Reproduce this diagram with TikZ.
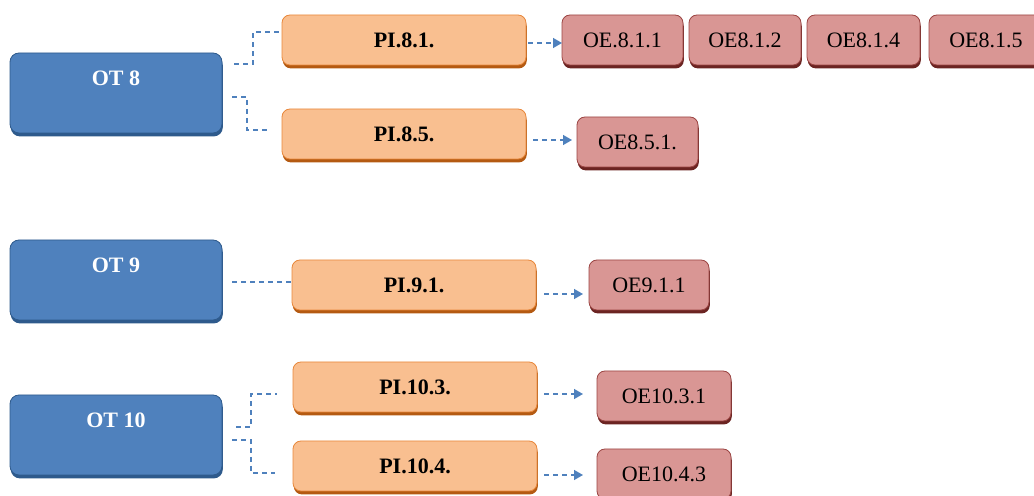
\documentclass[tikz,border=0pt]{standalone}
\usepackage{fontspec}
\setmainfont{Liberation Serif}
\usetikzlibrary{shadows, positioning, arrows.meta, calc}

\definecolor{otFill}{HTML}{4F81BD}
\definecolor{otDark}{HTML}{2E5A8C}
\definecolor{piFill}{HTML}{F9BF90}
\definecolor{piLine}{HTML}{E8883C}
\definecolor{piDark}{HTML}{B45A12}
\definecolor{oeFill}{HTML}{D99694}
\definecolor{oeLine}{HTML}{9B4543}
\definecolor{oeDark}{HTML}{6B2422}
\definecolor{linkBlue}{HTML}{4F81BD}

\begin{document}
\begin{tikzpicture}[
    x=0.5pt, y=-0.5pt,
    % --- stiluri ---
    ot/.style={
            draw=otDark,
            fill=otFill,
            rounded corners=4.5pt,
            inner sep=0pt, outer sep=0pt,
            minimum width=106pt,
            minimum height=40pt,
            text height=8pt, text depth=15pt,
            drop shadow={shadow xshift=0.4pt, shadow yshift=-1.7pt, fill=otDark, opacity=1},
            font=\fontsize{11}{13}\selectfont\bfseries,
            text=white
        },
    pi/.style={
            draw=piLine,
            fill=piFill,
            rounded corners=4pt,
            inner sep=0pt, outer sep=0pt,
            minimum width=122pt,
            minimum height=25pt,
            drop shadow={shadow xshift=0.4pt, shadow yshift=-1.7pt, fill=piDark, opacity=1},
            font=\fontsize{11}{13}\selectfont\bfseries
        },
    oe/.style={
            draw=oeLine,
            fill=oeFill,
            rounded corners=4pt,
            inner sep=0pt, outer sep=0pt,
            minimum width=#1,
            minimum height=25pt,
            drop shadow={shadow xshift=0.4pt, shadow yshift=-1.7pt, fill=oeDark, opacity=1},
            font=\fontsize{11}{13}\selectfont
        },
    oe/.default=60pt,
    link/.style={
            draw=linkBlue,
            line width=0.7pt,
            dash pattern=on 2.5pt off 2pt
        },
    linkArrow/.style={
            link,
            -{Triangle[length=4.5pt, width=5pt]}
        }
    ]

    \useasboundingbox (0,0) rectangle (1034,496);

    % 1. Obiective tematice
    \node[ot, anchor=north west] (ot8)  at (10,53)  {OT 8};
    \node[ot, anchor=north west] (ot9)  at (10,240) {OT 9};
    \node[ot, anchor=north west] (ot10) at (10,395) {OT 10};

    % 2. Prioritati de investitii
    \node[pi, anchor=north west] (pi81)  at (282,15)  {PI.8.1.};
    \node[pi, anchor=north west] (pi85)  at (282,109) {PI.8.5.};
    \node[pi, anchor=north west] (pi91)  at (292,260) {PI.9.1.};
    \node[pi, anchor=north west] (pi103) at (293,362) {PI.10.3.};
    \node[pi, anchor=north west] (pi104) at (293,441) {PI.10.4.};

    % 3. Obiective specifice
    \node[oe=60.5pt, anchor=north west] (oe811) at (562,15) {OE.8.1.1};
    \node[oe=56pt, right=3pt of oe811] (oe812) {OE8.1.2};
    \node[oe=56.5pt, right=3pt of oe812] (oe814) {OE8.1.4};
    \node[oe=57pt, right=4.5pt of oe814] (oe815) {OE8.1.5};
    \node[oe=60.5pt, anchor=north west] (oe851)  at (577,117) {OE8.5.1.};
    \node[oe=60pt, anchor=north west]   (oe911)  at (589,260) {OE9.1.1};
    \node[oe=67pt, anchor=north west]   (oe1031) at (597,371) {OE10.3.1};
    \node[oe=67pt, anchor=north west]   (oe1043) at (597,449) {OE10.4.3};

    % 4. Legaturi OT -> PI
    \draw[link] ($(ot8.east)+(12,-29)$) -| ($(pi81.west)+(-29,-8)$) -- ($(pi81.west)+(0,-8)$);
    \draw[link] ($(ot8.east)+(10,4)$) -| ($(pi85.west)+(-35,-4)$) -- ($(pi85.west)+(-15,-4)$);
    \draw[link] ($(ot9.east)+(10,2)$) -- ($(pi91.west)+(0,-3)$);
    \draw[link] ($(ot10.east)+(14,-8)$) -| ($(pi103.west)+(-42,7)$) -- ($(pi103.west)+(-16,7)$);
    \draw[link] ($(ot10.east)+(10,5)$) -| ($(pi104.west)+(-42,7)$) -- ($(pi104.west)+(-18,7)$);

    % 5. Legaturi PI -> OE
    \draw[linkArrow] ($(pi81.east)+(2,3)$) -- ($(oe811.west)+(0,3)$);
    \draw[linkArrow] ($(pi85.east)+(7,6)$) -- ($(oe851.west)+(-5,-2)$);
    \draw[linkArrow] ($(pi91.east)+(8,9)$) -- ($(oe911.west)+(-6,9)$);
    \draw[linkArrow] ($(pi103.east)+(7,7)$) -- ($(oe1031.west)+(-14,-2)$);
    \draw[linkArrow] ($(pi104.east)+(7,9)$) -- ($(oe1043.west)+(-14,1)$);

\end{tikzpicture}
\end{document}
